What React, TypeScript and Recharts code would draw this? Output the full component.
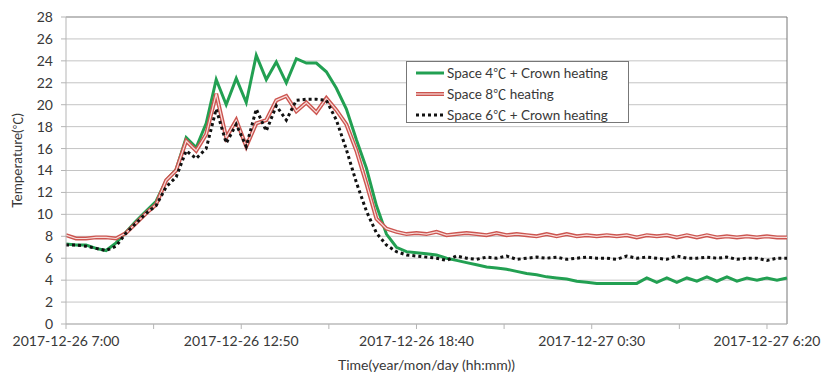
import React from "react";
import { LineChart, Line, XAxis, YAxis, CartesianGrid, ReferenceLine, Label } from "recharts";

// readings every 20 minutes, starting 2017-12-26 7:00
const space4Crown = [
  7.3, 7.2, 7.2, 6.9, 6.7, 7.4, 8.4, 9.4, 10.3, 11.2, 13.1, 14.1, 17.0, 16.1, 18.3, 22.3,
  20.0, 22.4, 20.2, 24.5, 22.3, 23.9, 22.0, 24.2, 23.8, 23.8, 23.0, 21.5, 19.6, 16.8, 14.2, 10.8,
  8.2, 7.0, 6.6, 6.5, 6.4, 6.3, 6.0, 5.8, 5.6, 5.4, 5.2, 5.1, 5.0, 4.8, 4.6, 4.5,
  4.3, 4.2, 4.1, 3.9, 3.8, 3.7, 3.7, 3.7, 3.7, 3.7, 4.2, 3.8, 4.2, 3.8, 4.2, 3.9,
  4.3, 3.9, 4.3, 3.9, 4.2, 4.0, 4.2, 4.0, 4.2,
];
const space8 = [
  8.1, 7.8, 7.8, 7.9, 7.9, 7.8, 8.3, 9.2, 10.1, 10.9, 13.1, 14.0, 16.7, 15.8, 17.3, 21.0,
  17.0, 18.6, 16.2, 18.3, 18.6, 20.4, 20.8, 19.4, 20.2, 19.3, 20.6, 19.5, 18.2, 15.8, 12.8, 9.6,
  8.7, 8.4, 8.2, 8.3, 8.2, 8.4, 8.1, 8.2, 8.3, 8.2, 8.1, 8.3, 8.1, 8.2, 8.1, 8.0,
  8.2, 8.0, 8.2, 8.0, 8.1, 8.0, 8.1, 8.0, 8.1, 7.9, 8.1, 8.0, 8.1, 7.9, 8.1, 7.9,
  8.1, 7.9, 8.0, 7.9, 8.0, 7.9, 8.0, 7.9, 7.9,
];
const space6Crown = [
  7.2, 7.2, 7.1, 6.9, 6.7, 7.1, 8.3, 9.2, 10.1, 10.8, 12.5, 13.4, 15.8, 15.1, 16.0, 19.6,
  16.5, 18.2, 16.2, 19.6, 17.6, 19.9, 18.6, 20.4, 20.5, 20.5, 20.4, 18.6, 15.9, 12.9, 10.3, 8.3,
  7.2, 6.6, 6.3, 6.2, 6.1, 6.0, 5.8, 6.2, 6.0, 5.9, 6.1, 6.0, 6.2, 5.9, 6.0, 6.1,
  6.0, 6.1, 5.9, 6.0, 6.1, 6.0, 6.0, 5.9, 6.2, 6.0, 6.1, 6.0, 5.9, 6.2, 6.0, 6.0,
  6.1, 6.0, 6.1, 5.9, 6.0, 6.0, 5.8, 6.0, 6.0,
];

const xTicks = [0, 175, 350, 525, 700, 875, 1050, 1225, 1400];
const xTickLabels = ["2017-12-26 7:00", "", "2017-12-26 12:50", "", "2017-12-26 18:40", "", "2017-12-27 0:30", "", "2017-12-27 6:20"];
const yTicks = [0, 2, 4, 6, 8, 10, 12, 14, 16, 18, 20, 22, 24, 26, 28];

const data = space4Crown.map((v, i) => ({
  t: i * 20,
  green: v,
  red: space8[i],
  black: space6Crown[i],
}));

const FONT = "Lato, 'Noto Sans CJK SC', sans-serif";
const CJK = "'Noto Sans CJK SC', sans-serif";
const TEXT = "#383838";

const Deg = () => <span style={{ fontFamily: CJK, fontSize: 13 }}>{"\u2103"}</span>;

function LegendBox() {
  const row = (sample: React.ReactNode, text: React.ReactNode) => (
    <div style={{ display: "flex", alignItems: "center", height: 21 }}>
      <svg width={30} height={8} style={{ marginRight: 1 }}>{sample}</svg>
      <span>{text}</span>
    </div>
  );
  return (
    <div
      style={{
        position: "absolute", left: 406, top: 61, width: 212, height: 60,
        border: "1px solid #777", background: "#fff", fontFamily: FONT, fontSize: 13.5,
        color: TEXT, padding: "0 0 0 9px", boxSizing: "content-box", whiteSpace: "nowrap",
      }}
    >
      {row(<line x1={0} y1={4} x2={28} y2={4} stroke="#22a052" strokeWidth={3} />, <>Space 4<Deg /> + Crown heating</>)}
      {row(
        <g>
          <line x1={0} y1={4} x2={28} y2={4} stroke="#cc5550" strokeWidth={4} />
          <line x1={0} y1={4} x2={28} y2={4} stroke="#f8dedc" strokeWidth={1.2} />
        </g>,
        <>Space 8<Deg /> heating</>
      )}
      {row(<line x1={0} y1={4} x2={28} y2={4} stroke="#111" strokeWidth={3} strokeDasharray="3 3" />, <>Space 6<Deg /> + Crown heating</>)}
    </div>
  );
}

function YTitle(props: any) {
  const vb = props.viewBox || { x: 0, y: 17, height: 307 };
  const cx = 17;
  const cy = vb.y + vb.height / 2 - 10;
  return (
    <text x={cx} y={cy} transform={`rotate(-90 ${cx} ${cy})`} textAnchor="middle" dominantBaseline="central"
      style={{ fill: TEXT, fontSize: 13.5, fontFamily: FONT }}>
      Temperature(<tspan style={{ fontFamily: CJK, fontSize: 12.5 }}>{"\u2103"}</tspan>)
    </text>
  );
}

export default function App() {
  return (
    <div style={{ position: "absolute", left: 0, top: 0, width: 835, height: 379, background: "#fff" }}>
      <LineChart width={835} height={379} data={data} margin={{ top: 17, right: 48, bottom: 0, left: 0 }}>
        <CartesianGrid vertical={false} stroke="#c4c4c4" />
        <XAxis
          dataKey="t"
          type="number"
          domain={[0, 1440]}
          ticks={xTicks}
          tickFormatter={(v: number) => xTickLabels[xTicks.indexOf(v)] ?? ""}
          interval={0}
          height={55}
          stroke="#b5b5b5"
          tickSize={5}
          tickMargin={7}
          tick={{ fill: TEXT, fontSize: 14, fontFamily: FONT }}
        >
          <Label value="Time(year/mon/day  (hh:mm))" position="insideBottom" offset={9} style={{ fill: TEXT, fontSize: 14, fontFamily: FONT, whiteSpace: "pre" }} />
        </XAxis>
        <YAxis
          type="number"
          domain={[0, 28]}
          ticks={yTicks}
          interval={0}
          width={66}
          stroke="#b5b5b5"
          tickSize={5}
          tickMargin={8}
          tick={{ fill: TEXT, fontSize: 14, fontFamily: FONT }}
        >
          <Label content={<YTitle />} />
        </YAxis>
        <ReferenceLine y={28} stroke="#999" />
        <ReferenceLine x={1440} stroke="#777" />
        <Line dataKey="green" stroke="#22a052" strokeWidth={3} dot={false} isAnimationActive={false} />
        <Line dataKey="red" stroke="#cc5550" strokeWidth={4} dot={false} isAnimationActive={false} />
        <Line dataKey="red" stroke="#f8dedc" strokeWidth={1.2} dot={false} isAnimationActive={false} />
        <Line dataKey="black" stroke="#111" strokeWidth={3} strokeDasharray="3 3" dot={false} isAnimationActive={false} />
      </LineChart>
      <LegendBox />
    </div>
  );
}
